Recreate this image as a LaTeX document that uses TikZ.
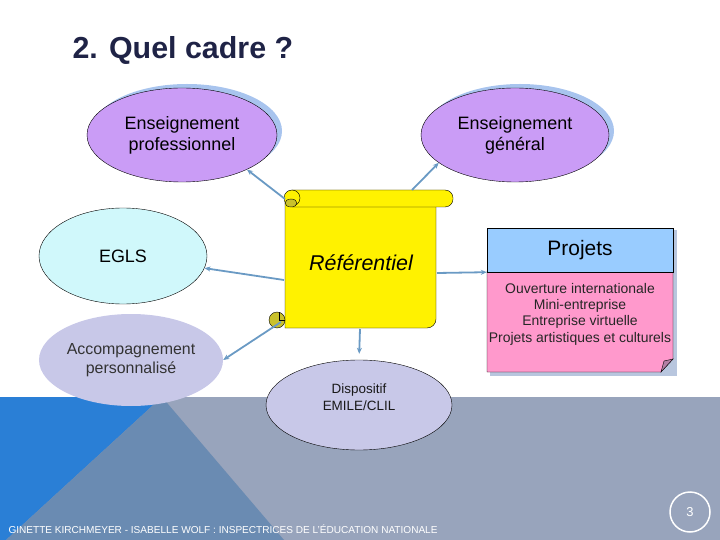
\documentclass[tikz,border=0pt]{standalone}
\usepackage{fontspec}
\setmainfont{Liberation Sans}
\usetikzlibrary{shapes.geometric,arrows.meta}
\definecolor{titlenavy}{HTML}{1F2346}
\definecolor{bandblue}{HTML}{2A7FD6}
\definecolor{bandsteel}{HTML}{6A8BB2}
\definecolor{bandgray}{HTML}{98A4BC}
\definecolor{lilac}{HTML}{CA9CF6}
\definecolor{lilacshadow}{HTML}{A8C4EE}
\definecolor{paleaqua}{HTML}{D0F8FB}
\definecolor{mist}{HTML}{C8C8E8}
\definecolor{scrollolive}{HTML}{C9C12B}
\definecolor{skyhead}{HTML}{99CCFF}
\definecolor{rosebody}{HTML}{FF99CC}
\definecolor{rosefold}{HTML}{B37FA5}
\definecolor{projshadow}{HTML}{B8C6DE}
\definecolor{linkblue}{HTML}{6A9AC4}
\begin{document}
\begin{tikzpicture}[x=1bp,y=-1bp,
    bubble/.style={ellipse, draw, thin, align=center, inner sep=0pt,
        font=\fontsize{18}{21}\selectfont},
    link/.style={draw=linkblue, line width=1.8bp, -{Stealth[length=6bp,width=5bp]}}]
    \useasboundingbox (0,0) rectangle (720,540);
    % bottom band
    \fill [bandgray] (0,397) rectangle (720,540);
    \fill [bandblue] (0,397) -- (162,397) -- (6,540) -- (0,540) -- cycle;
    \fill [bandsteel] (162,397) -- (284,540) -- (6,540) -- cycle;

    \node [anchor=west, text=titlenavy, font=\fontsize{30.5}{34}\selectfont\bfseries] (title) at (69,50) {2. Quel cadre ?};

    % ellipses
    \fill [lilacshadow] (187,131) ellipse [x radius=95bp, y radius=47bp];
    \node [bubble, fill=lilac, minimum width=190bp, minimum height=94bp] (prof) at (182,135) {Enseignement\\ professionnel};
    \fill [lilacshadow] (520,131) ellipse [x radius=94bp, y radius=47bp];
    \node [bubble, fill=lilac, minimum width=188bp, minimum height=94bp] (gen) at (515,135) {Enseignement\\général};
    \node [bubble, fill=paleaqua, minimum width=168bp, minimum height=96bp] (egls) at (123,256) {EGLS};
    \node [bubble, draw=none, fill=mist, text=black!80, font=\fontsize{16}{19}\selectfont, minimum width=184bp, minimum height=92bp] (acc) at (131,360) {Accompagnement\\personnalisé};
    \node [bubble, fill=mist, minimum width=186bp, minimum height=90bp] (emile) at (359,405) {};
    \node [align=center, text=black!90, font=\fontsize{13.5}{17}\selectfont] (emiletext) at (359,397) {Dispositif\\EMILE/CLIL};

    % scroll
    \draw [fill=yellow] (285,198) -- (436,198) [rounded corners=9bp] -- (436,328) [sharp corners] -- (285,328) -- cycle;
    \draw [fill=yellow, rounded corners=8bp] (285,190) rectangle (453,207);
    \draw [fill=yellow] (292,198) circle [radius=8bp];
    \draw [fill=scrollolive] (291,203) ellipse [x radius=6bp, y radius=4bp];
    \draw [fill=scrollolive] (277,320) circle [radius=8bp];
    \draw (279,312) -- (279,320) -- (285,320);
    \node [font=\fontsize{21.5}{25}\selectfont\itshape] (ref) at (361,263) {Référentiel};
    \coordinate (refcorner) at (285,199);
    \coordinate (reftop) at (412,190);
    \coordinate (refleft) at (284,280);
    \coordinate (refcurl) at (281,322);
    \coordinate (refbottom) at (360,329);
    \coordinate (refright) at (437,273);

    % projets
    \fill [projshadow] (490,230) rectangle (677,376);
    \draw [fill=rosebody] (487,271) -- (673,271) -- (673,359) -- (661,372) -- (487,372) -- cycle;
    \draw [fill=rosefold] (673,359) -- (661,372) -- (664,361) -- cycle;
    \node [draw, fill=skyhead, minimum width=186bp, minimum height=44bp, font=\fontsize{21}{25}\selectfont] (projhead) at (580,250) {Projets};
    \node [align=center, text=black!85, font=\fontsize{14}{16.4}\selectfont] (projitems) at (580,314) {Ouverture internationale\\Mini-entreprise\\Entreprise virtuelle\\Projets artistiques et culturels};

    % connectors
    \foreach \a/\b in {refcorner/prof.332, reftop/gen.200, refleft/egls, refcurl/acc.east, refright/projhead.south west}
        {\draw [link] (\a) -- (\b);}
    \draw [link, shorten >=6bp] (refbottom) -- (emile.north);

    \node [anchor=west, text=white, font=\fontsize{10.1}{12}\selectfont] (footer) at (5,529) {GINETTE KIRCHMEYER - ISABELLE WOLF : INSPECTRICES DE L'ÉDUCATION NATIONALE};
    \node [circle, draw=white, line width=1.5bp, minimum size=40bp, text=white, font=\fontsize{13}{15}\selectfont] (pagenum) at (690,512) {3};
\end{tikzpicture}
\end{document}
